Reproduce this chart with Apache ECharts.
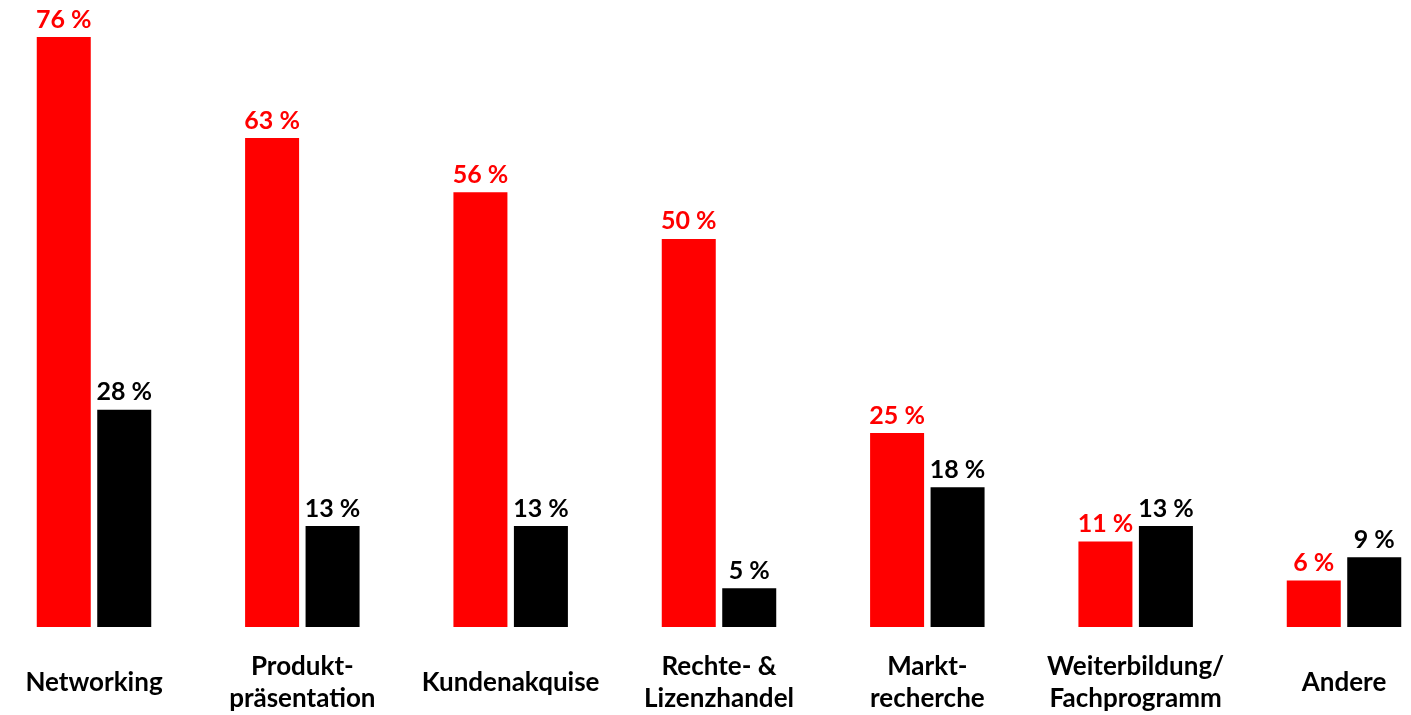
<!DOCTYPE html>
<html>
<head>
<meta charset="utf-8">
<script src="https://cdn.jsdelivr.net/npm/echarts@6/dist/echarts.min.js"></script>
<style>
  html, body { margin: 0; padding: 0; background: #fff; }
  #chart { width: 1411px; height: 715px; }
</style>
</head>
<body>
<div id="chart"></div>
<script>
var chart = echarts.init(document.getElementById('chart'));

// Kategorien (x-Achse)
var categories = [
    'Networking',
    'Produkt-\npräsentation',
    'Kundenakquise',
    'Rechte- &\nLizenzhandel',
    'Markt-\nrecherche',
    'Weiterbildung/\nFachprogramm',
    'Andere'
];
// Werte in %
var redValues = [76, 63, 56, 50, 25, 11, 6];
var blackValues = [28, 13, 13, 5, 18, 13, 9];

var fontFamily = 'Lato, "Noto Sans", sans-serif';

function labelStyle(color) {
    return {
        show: true,
        position: 'top',
        distance: 5,
        color: color,
        fontFamily: fontFamily,
        fontWeight: 'bold',
        fontSize: 25,
        formatter: '{c} %'
    };
}

var option = {
    backgroundColor: '#fff',
    animation: false,
    // Kategorien liegen auf den Punkten (boundaryGap false), erste bei x=94, letzte bei x=1344
    grid: {
        left: 94,
        right: 67,
        top: 6,
        bottom: 84,
        containLabel: false
    },
    xAxis: {
        type: 'category',
        data: categories,
        boundaryGap: false,
        axisLine: { show: false },
        axisTick: { show: false },
        splitLine: { show: false },
        axisLabel: {
            interval: 0,
            margin: 56,
            verticalAlign: 'middle',
            lineHeight: 32,
            color: '#000',
            fontFamily: fontFamily,
            fontWeight: 'bold',
            fontSize: 26
        }
    },
    yAxis: {
        type: 'value',
        min: 0,
        max: 80,
        show: false,
        splitLine: { show: false }
    },
    series: [
        {
            name: 'rot',
            type: 'bar',
            data: redValues,
            barWidth: 54,
            barGap: '12%',
            itemStyle: { color: '#ff0000' },
            label: labelStyle('#ff0000')
        },
        {
            name: 'schwarz',
            type: 'bar',
            data: blackValues,
            barWidth: 54,
            itemStyle: { color: '#000000' },
            label: labelStyle('#000000')
        }
    ]
};
chart.setOption(option);
</script>
</body>
</html>
